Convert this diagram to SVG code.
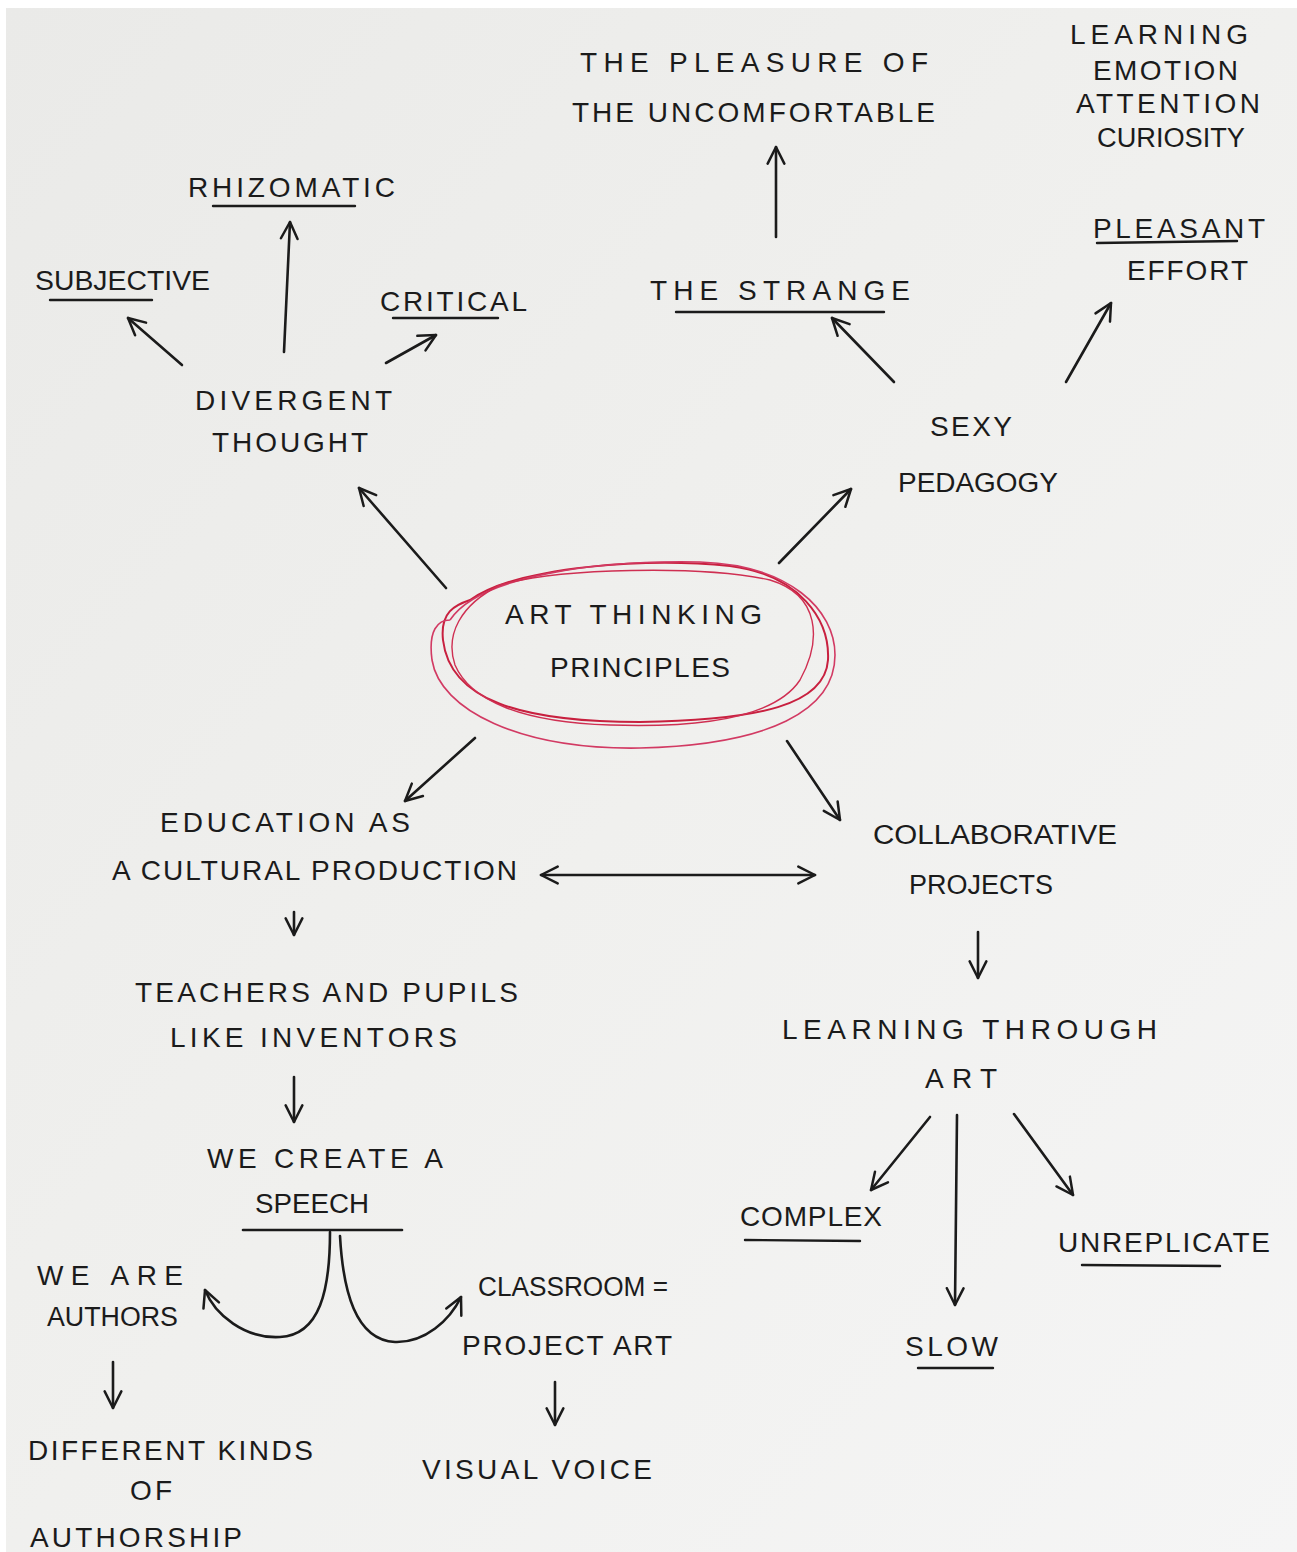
<svg xmlns="http://www.w3.org/2000/svg" width="1297" height="1552" viewBox="0 0 1297 1552">
<defs>
<linearGradient id="paper" x1="0" y1="0" x2="1" y2="1">
<stop offset="0" stop-color="#eaeae8"/>
<stop offset="0.5" stop-color="#f0f0ee"/>
<stop offset="1" stop-color="#f5f5f5"/>
</linearGradient>
<marker id="ah" viewBox="0 0 12 12" refX="11" refY="6" markerWidth="20" markerHeight="20" markerUnits="userSpaceOnUse" orient="auto-start-reverse">
<path d="M1,1 L11,6 L1,11" fill="none" stroke="#1b1b1b" stroke-width="1.5" stroke-linecap="round" stroke-linejoin="round"/>
</marker>
<style>
.t{font-family:"Liberation Sans","DejaVu Sans",sans-serif;font-size:28px;fill:#1b1b1b;}
.n{font-size:27px;}
.c{fill:none;stroke:#1b1b1b;stroke-width:2.6;stroke-linecap:round;stroke-linejoin:round;}
.a{marker-end:url(#ah);}
.u{fill:none;stroke:#1b1b1b;stroke-width:2.4;stroke-linecap:round;}
.r{fill:none;stroke:#c8203f;stroke-width:2;}
</style>
</defs>
<rect width="1297" height="1552" fill="#ffffff"/>
<rect x="6" y="8" width="1291" height="1544" fill="url(#paper)"/>

<g id="connectors">
<path class="c a" d="M776,237 L776,147"/>
<path class="c a" d="M284,352 L290,222"/>
<path class="c a" d="M182,365 L128,318"/>
<path class="c a" d="M386,363 L436,335"/>
<path class="c a" d="M894,382 L832,318"/>
<path class="c a" d="M1066,382 L1111,303"/>
<path class="c a" d="M446,588 L359,488"/>
<path class="c a" d="M779,563 L851,489"/>
<path class="c a" d="M475,738 L405,801"/>
<path class="c a" d="M787,741 L840,820"/>
<path class="c a" d="M541,875 L815,875" style="marker-start:url(#ah)"/>
<path class="c a" d="M294,912 L294,935"/>
<path class="c a" d="M294,1077 L294,1122"/>
<path class="c a" d="M113,1362 L113,1408"/>
<path class="c a" d="M555,1382 L555,1425"/>
<path class="c a" d="M978,932 L978,978"/>
<path class="c a" d="M930,1117 L871,1190"/>
<path class="c a" d="M957,1115 L955,1305"/>
<path class="c a" d="M1014,1114 L1073,1195"/>
<path class="c" d="M243,1230 L402,1230"/>
<path class="c a" d="M330,1232 C330,1290 320,1335 280,1337 C245,1339 215,1315 205,1290"/>
<path class="c a" d="M340,1236 C343,1290 355,1340 395,1342 C425,1343 450,1320 461,1297"/>
</g>

<g id="underlines">
<path class="u" d="M213,206 L355,206"/>
<path class="u" d="M50,300 L152,300"/>
<path class="u" d="M393,318 L498,318"/>
<path class="u" d="M676,312 L884,312"/>
<path class="u" d="M1097,243 L1237,241"/>
<path class="u" d="M745,1240 L860,1241"/>
<path class="u" d="M1082,1265 L1220,1266"/>
<path class="u" d="M918,1368 L993,1368"/>
</g>

<g id="center">
<path class="r" d="M470,600 C520,565 650,558 730,566 C800,575 830,620 828,660 C825,705 760,720 640,722 C520,722 450,700 443,640 C440,612 455,605 470,600"/>
<path class="r" d="M450,620 C480,575 600,560 700,562 C790,565 835,610 835,655 C835,710 770,745 640,748 C520,750 440,710 432,660 C428,630 438,620 450,620" style="stroke:#d23a63;stroke-width:1.6"/>
<path class="r" d="M500,585 C560,568 700,565 770,580 C820,595 822,640 800,680 C775,718 700,728 610,725 C520,722 470,700 455,665 C445,635 460,605 500,585" style="stroke:#cf2f52;stroke-width:1.4"/>
<text class="t" x="505" y="624" textLength="257" lengthAdjust="spacing">ART THINKING</text>
<text class="t" x="550" y="677" textLength="180" lengthAdjust="spacing">PRINCIPLES</text>
</g>

<g id="pleasure"><text class="t" x="580" y="72" textLength="348" lengthAdjust="spacing">THE PLEASURE OF</text>
<text class="t" x="572" y="122" textLength="363" lengthAdjust="spacing">THE UNCOMFORTABLE</text></g>
<g id="learning-list"><text class="t" x="1070" y="44" textLength="178" lengthAdjust="spacing">LEARNING</text>
<text class="t" x="1093" y="80" textLength="145" lengthAdjust="spacing">EMOTION</text>
<text class="t" x="1076" y="113" textLength="184" lengthAdjust="spacing">ATTENTION</text>
<text class="t n" x="1097" y="147" textLength="148" lengthAdjust="spacingAndGlyphs">CURIOSITY</text></g>
<g id="rhizomatic"><text class="t" x="188" y="197" textLength="207" lengthAdjust="spacing">RHIZOMATIC</text></g>
<g id="subjective"><text class="t n" x="35" y="290" textLength="175" lengthAdjust="spacingAndGlyphs">SUBJECTIVE</text></g>
<g id="critical"><text class="t" x="380" y="311" textLength="147" lengthAdjust="spacing">CRITICAL</text></g>
<g id="divergent"><text class="t" x="195" y="410" textLength="197" lengthAdjust="spacing">DIVERGENT</text>
<text class="t" x="212" y="452" textLength="156" lengthAdjust="spacing">THOUGHT</text></g>
<g id="strange"><text class="t" x="650" y="300" textLength="260" lengthAdjust="spacing">THE STRANGE</text></g>
<g id="pleasant"><text class="t" x="1093" y="238" textLength="172" lengthAdjust="spacing">PLEASANT</text>
<text class="t" x="1127" y="280" textLength="121" lengthAdjust="spacing">EFFORT</text></g>
<g id="sexy"><text class="t" x="930" y="436" textLength="82" lengthAdjust="spacing">SEXY</text>
<text class="t n" x="898" y="492" textLength="160" lengthAdjust="spacingAndGlyphs">PEDAGOGY</text></g>
<g id="education"><text class="t" x="160" y="832" textLength="250" lengthAdjust="spacing">EDUCATION AS</text>
<text class="t" x="112" y="880" textLength="405" lengthAdjust="spacing">A CULTURAL PRODUCTION</text></g>
<g id="collaborative"><text class="t n" x="873" y="844" textLength="244" lengthAdjust="spacingAndGlyphs">COLLABORATIVE</text>
<text class="t n" x="909" y="894" textLength="144" lengthAdjust="spacingAndGlyphs">PROJECTS</text></g>
<g id="teachers"><text class="t" x="135" y="1002" textLength="383" lengthAdjust="spacing">TEACHERS AND PUPILS</text>
<text class="t" x="170" y="1047" textLength="287" lengthAdjust="spacing">LIKE INVENTORS</text></g>
<g id="speech"><text class="t" x="207" y="1168" textLength="236" lengthAdjust="spacing">WE CREATE A</text>
<text class="t n" x="255" y="1213" textLength="114" lengthAdjust="spacingAndGlyphs">SPEECH</text></g>
<g id="authors"><text class="t" x="37" y="1285" textLength="146" lengthAdjust="spacing">WE ARE</text>
<text class="t n" x="47" y="1326" textLength="131" lengthAdjust="spacingAndGlyphs">AUTHORS</text></g>
<g id="classroom"><text class="t n" x="478" y="1296" textLength="190" lengthAdjust="spacingAndGlyphs">CLASSROOM =</text>
<text class="t" x="462" y="1355" textLength="210" lengthAdjust="spacing">PROJECT ART</text></g>
<g id="authorship"><text class="t" x="28" y="1460" textLength="285" lengthAdjust="spacing">DIFFERENT KINDS</text>
<text class="t" x="130" y="1500" textLength="42" lengthAdjust="spacing">OF</text>
<text class="t" x="30" y="1547" textLength="212" lengthAdjust="spacing">AUTHORSHIP</text></g>
<g id="visual"><text class="t" x="422" y="1479" textLength="230" lengthAdjust="spacing">VISUAL VOICE</text></g>
<g id="through-art"><text class="t" x="782" y="1039" textLength="375" lengthAdjust="spacing">LEARNING THROUGH</text>
<text class="t" x="925" y="1088" textLength="72" lengthAdjust="spacing">ART</text></g>
<g id="complex"><text class="t" x="740" y="1226" textLength="142" lengthAdjust="spacing">COMPLEX</text></g>
<g id="unreplicate"><text class="t" x="1058" y="1252" textLength="212" lengthAdjust="spacing">UNREPLICATE</text></g>
<g id="slow"><text class="t" x="905" y="1356" textLength="93" lengthAdjust="spacing">SLOW</text></g>
</svg>
